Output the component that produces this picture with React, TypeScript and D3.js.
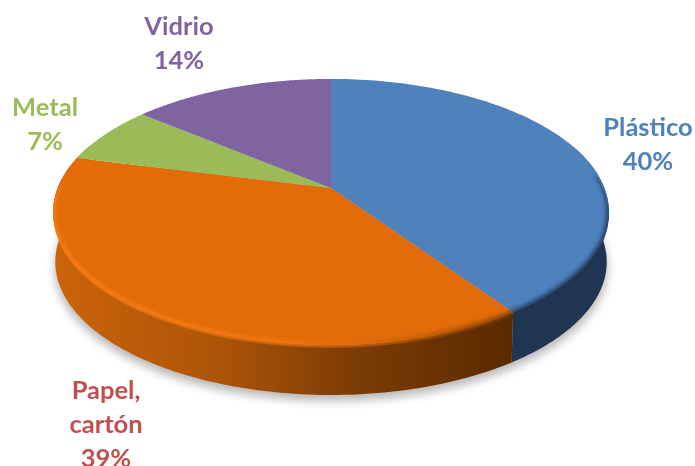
import React from "react";
import * as d3 from "d3";

const categories = ["Plástico", "Papel, cartón", "Metal", "Vidrio"];
const values = [40.4, 38.5, 7.1, 14];
const topColors = ["#4f81bd", "#e26b0a", "#9bbb59", "#8064a2"];
const labelColors = ["#4f81bd", "#c0504d", "#9bbb59", "#8064a2"];

const W = 695, H = 466;
const CX = 331, CY = 188, RX = 273.4, RY = 128.7, K = -0.18, DEPTH = 50;

const project = (t: number, dy = 0, s = 1): [number, number] => {
  const u = Math.sin(t), v = -Math.cos(t), w = 1 + K * v;
  return [CX + (s * RX * u) / w, CY + dy + (RY * v) / w];
};
const line = d3.line();
const arcPts = (a: number, b: number, dy = 0, s = 1) =>
  d3.range(0, 121).map((i) => project(a + ((b - a) * i) / 120, dy, s));

const slices = d3.pie<number>().sort(null)(values);
const rad = (deg: number) => (deg * Math.PI) / 180;

const topPath = (a: number, b: number) =>
  line([[CX, CY], ...arcPts(a, b)])! + "Z";
const sidePath = (a: number, b: number) =>
  line([...arcPts(a, b), ...arcPts(b, a, DEPTH, 0.992)])! + "Z";

const labelLines = [["Plástico"], ["Papel,", "cartón"], ["Metal"], ["Vidrio"]];
const labelAnchors: [number, number][] = [[648, 136], [106, 399], [45, 116], [179, 35]];
const pct = d3.format(".0f");

export default function App() {
  const a0 = slices[0].endAngle;
  const a1 = slices[1].endAngle;
  const shadow = line([...arcPts(0, 2 * Math.PI, DEPTH + 6, 0.995)])! + "Z";
  return (
    <svg width={W} height={H} style={{ position: "absolute", left: 0, top: 0, background: "#fff" }}>
      <defs>
        <filter id="blur6" x="-20%" y="-20%" width="140%" height="140%"><feGaussianBlur stdDeviation="5" /></filter>
        <filter id="blur2" x="-20%" y="-20%" width="140%" height="140%"><feGaussianBlur stdDeviation="2" /></filter>
        <filter id="soft" x="-5%" y="-20%" width="110%" height="140%"><feGaussianBlur stdDeviation="0.45" /></filter>
        <linearGradient id="sideOrange" gradientUnits="userSpaceOnUse" x1="53" x2="515" y1="0" y2="0">
          <stop offset="0" stopColor="#cc640a" />
          <stop offset="0.35" stopColor="#ad5508" />
          <stop offset="0.65" stopColor="#7c3c04" />
          <stop offset="1" stopColor="#5a2a00" />
        </linearGradient>
        <linearGradient id="rimOrange" gradientUnits="userSpaceOnUse" x1="53" x2="515" y1="0" y2="0">
          <stop offset="0" stopColor="#ff7f14" />
          <stop offset="0.5" stopColor="#f8790f" />
          <stop offset="0.7" stopColor="#d96708" />
          <stop offset="1" stopColor="#7a3a00" />
        </linearGradient>
        <clipPath id="pieClip"><path d={line(arcPts(0, 2 * Math.PI, 3))! + "Z"} /></clipPath>
      </defs>
      <path d={shadow} fill="#000" opacity={0.28} filter="url(#blur6)" />
      <path d={sidePath(a0, rad(290))} fill="url(#sideOrange)" />
      <path d={sidePath(rad(70), a0)} fill="#1f3552" />
      {slices.map((s, i) => (
        <path key={categories[i]} d={topPath(s.startAngle, s.endAngle)} fill={topColors[i]} />
      ))}
      <g clipPath="url(#pieClip)">
        <path d={line(arcPts(a0, a1 - 0.22))!} fill="none" stroke="url(#rimOrange)" strokeWidth={4.5} filter="url(#blur2)" />
        <path d={line(arcPts(rad(84), a0))!} fill="none" stroke="#1f3552" strokeWidth={4.5} filter="url(#blur2)" />
      </g>
      <g fontFamily="Lato, 'Open Sans', sans-serif" fontWeight={700} fontSize={25.5} textAnchor="middle" filter="url(#soft)">
        {labelLines.map((ls, i) =>
          [...ls, `${pct(values[i])}%`].map((t, j) => (
            <text key={t} x={labelAnchors[i][0]} y={labelAnchors[i][1] + j * 34} fill={labelColors[i]}>{t}</text>
          ))
        )}
      </g>
    </svg>
  );
}
